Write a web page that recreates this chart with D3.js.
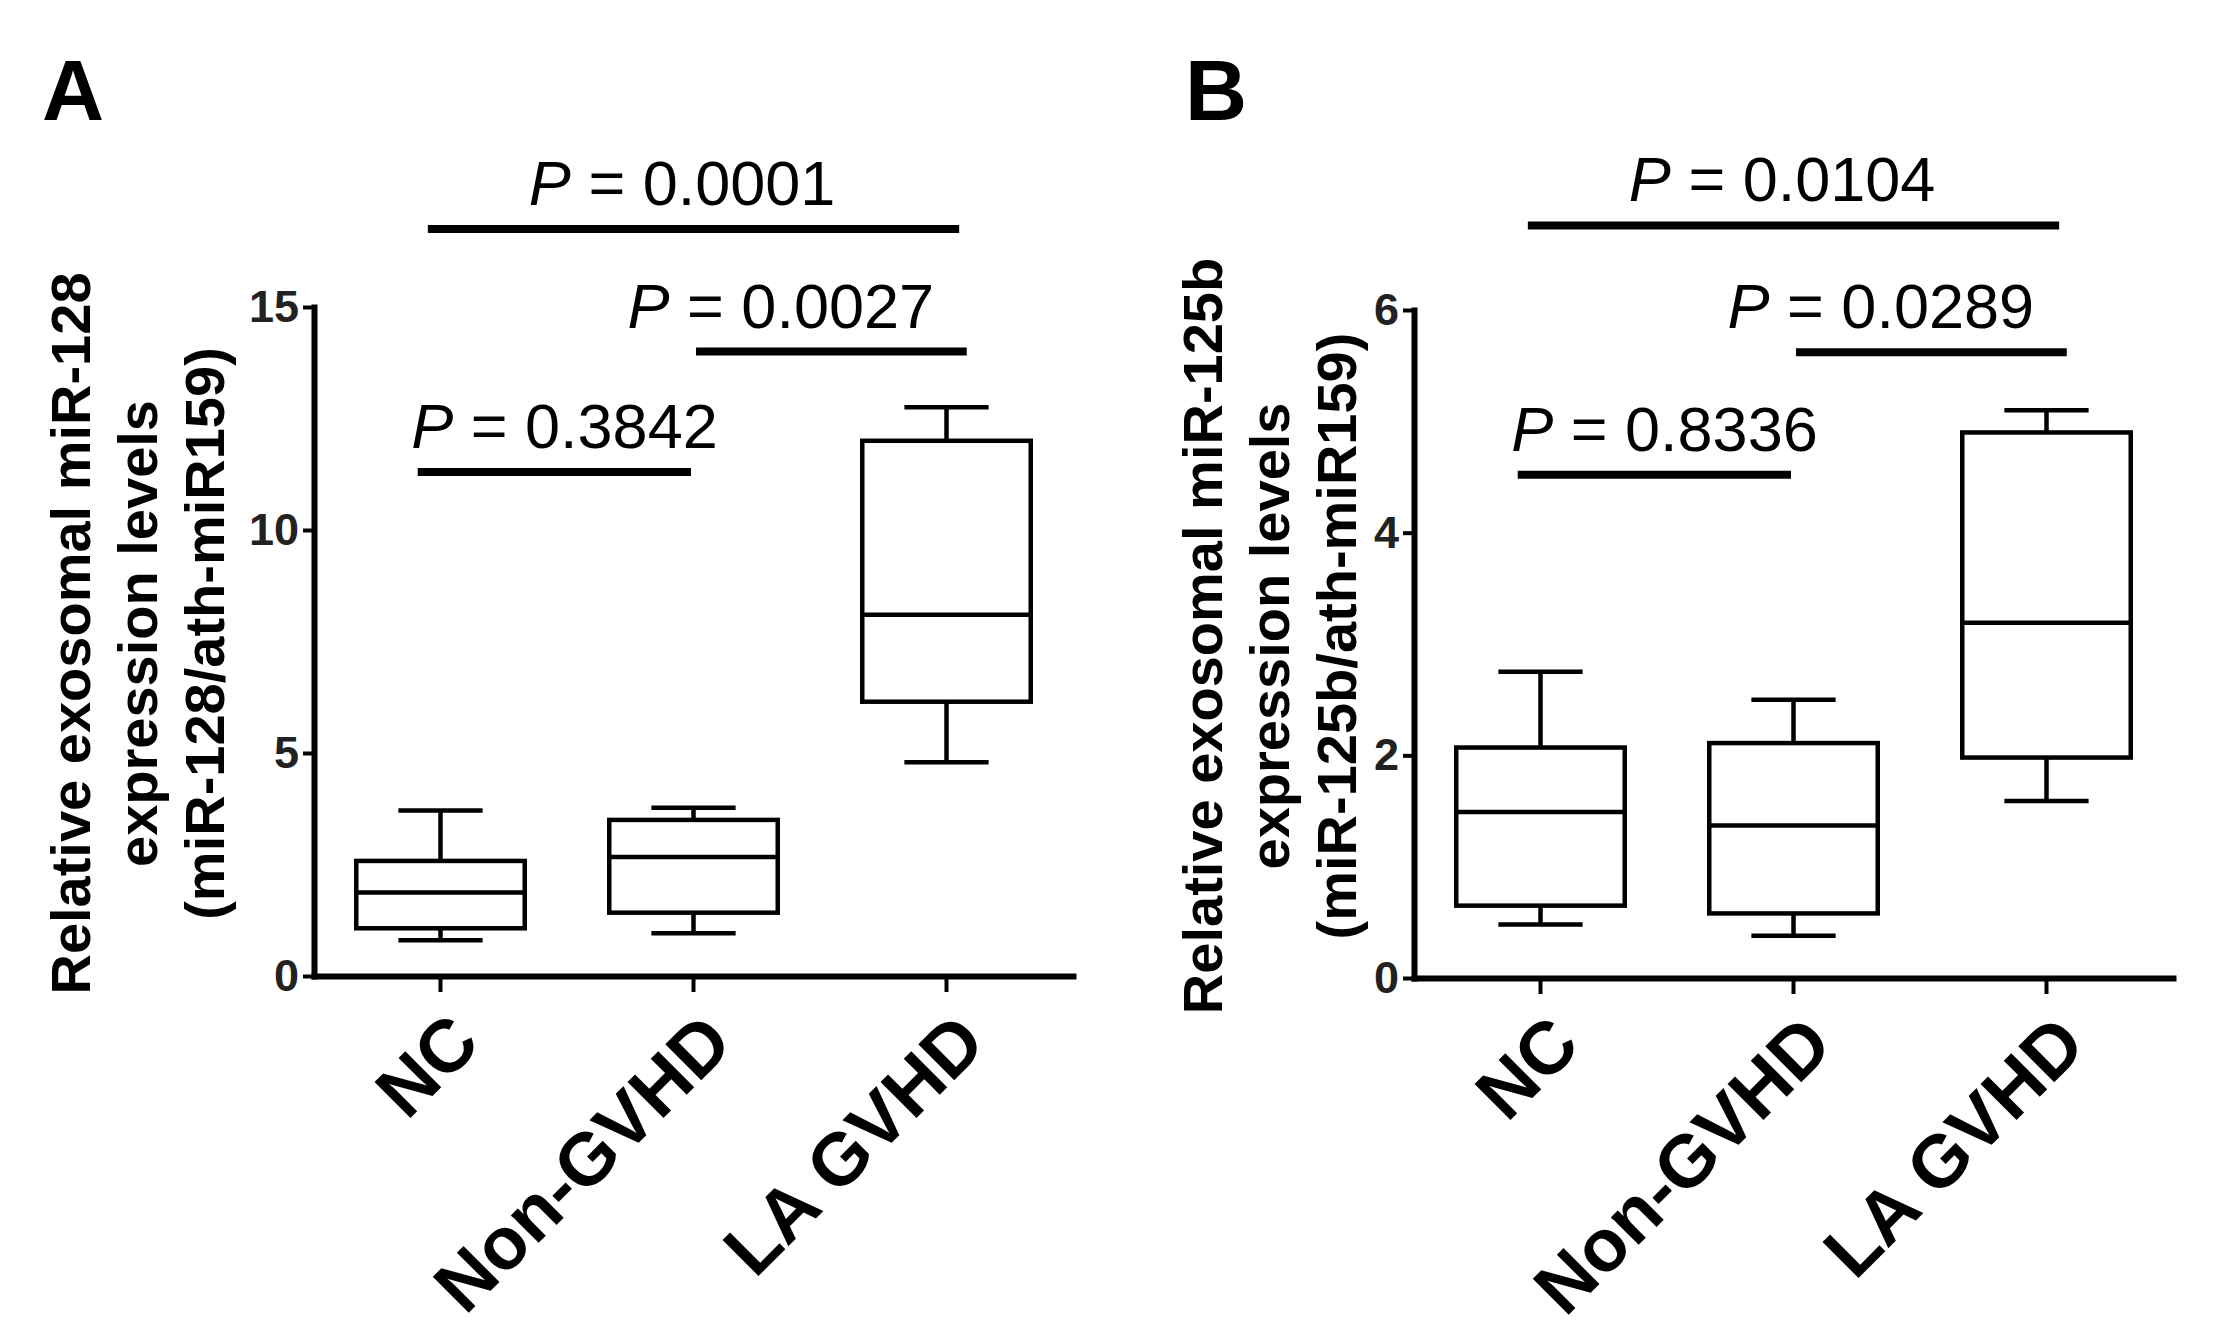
<!DOCTYPE html>
<html>
<head>
<meta charset="utf-8">
<script src="https://cdn.jsdelivr.net/npm/d3@7"></script>
<style>
  body { margin: 0; background: #fff; }
  svg { display: block; font-family: "Liberation Sans", Arial, Helvetica, sans-serif; }
</style>
</head>
<body>
<svg id="chart"></svg>
<script>
const categories = ["NC", "Non-GVHD", "LA GVHD"];

// box stats per group: [min, q1, median, q3, max]
const miR128Stats = [
  [0.8, 1.07, 1.87, 2.58, 3.71],
  [0.96, 1.42, 2.67, 3.5, 3.77],
  [4.79, 6.15, 8.1, 12.0, 12.75],
];
const miR125bStats = [
  [0.48, 0.65, 1.49, 2.07, 2.75],
  [0.38, 0.58, 1.37, 2.11, 2.5],
  [1.59, 1.98, 3.19, 4.9, 5.1],
];

const comparisonPairs = [[0, 2], [1, 2], [0, 1]];
const miR128PValues = ["0.0001", "0.0027", "0.3842"];
const miR128BarLevels = [16.75, 14.0, 11.3];
const miR125bPValues = ["0.0104", "0.0289", "0.8336"];
const miR125bBarLevels = [6.76, 5.62, 4.52];

const miR128Ticks = [0, 5, 10, 15];
const miR125bTicks = [0, 2, 4, 6];

// layout only: bar end nudges and label shifts, in category steps
const barPads = [[-0.05, 0.05], [0.01, 0.08], [-0.09, -0.01]];
const labelShift = [-0.045, -0.155, -0.01];

const svgWidth = 2217;
const svgHeight = 1344;

const svg = d3.select("#chart").attr("width", svgWidth).attr("height", svgHeight);
svg.append("rect").attr("width", svgWidth).attr("height", svgHeight).attr("fill", "#fff");

const panels = [
  {
    letter: "A", letterX: 42, axisX: 314, axisRight: 1073, yTop: 307, yBottom: 976,
    yMax: 15, ticks: miR128Ticks, stats: miR128Stats,
    pValues: miR128PValues, levels: miR128BarLevels,
    title: ["Relative exosomal miR-128", "expression levels", "(miR-128/ath-miR159)"],
    titleX: 90,
  },
  {
    letter: "B", letterX: 1185, axisX: 1414, axisRight: 2173, yTop: 310, yBottom: 978,
    yMax: 6, ticks: miR125bTicks, stats: miR125bStats,
    pValues: miR125bPValues, levels: miR125bBarLevels,
    title: ["Relative exosomal miR-125b", "expression levels", "(miR-125b/ath-miR159)"],
    titleX: 1222,
  },
];

const drawPanel = (p) => {
  const g = svg.append("g");

  const x = d3.scaleBand().domain(categories).range([p.axisX, p.axisRight]);
  const step = x.step();
  const cx = (c) => x(c) + x.bandwidth() / 2;
  const y = d3.scaleLinear().domain([0, p.yMax]).range([p.yBottom, p.yTop]);

  // y axis
  const yAxis = g.append("g")
    .attr("transform", `translate(${p.axisX},0)`)
    .call(d3.axisLeft(y).tickValues(p.ticks).tickFormat(d3.format("d"))
      .tickSize(11).tickSizeOuter(0).tickPadding(4));
  yAxis.select(".domain").attr("stroke", "#000").attr("stroke-width", 6).attr("stroke-linecap", "square");
  yAxis.selectAll(".tick line").attr("stroke", "#000").attr("stroke-width", 4);
  yAxis.selectAll(".tick text")
    .attr("font-size", 45).attr("font-weight", "bold").attr("fill", "#222")
    .attr("font-family", "'Liberation Sans', Arial, sans-serif");

  // x axis
  const xAxis = g.append("g")
    .attr("transform", `translate(0,${p.yBottom})`)
    .call(d3.axisBottom(x).tickSize(16).tickSizeOuter(0).tickFormat(""));
  xAxis.select(".domain").attr("stroke", "#000").attr("stroke-width", 6).attr("stroke-linecap", "square");
  xAxis.selectAll(".tick line").attr("stroke", "#000").attr("stroke-width", 4);

  // category labels
  g.selectAll(".cat")
    .data(categories)
    .enter()
    .append("text")
    .attr("class", "cat")
    .attr("transform", (d) => `translate(${cx(d) + 42},${p.yBottom + 70}) rotate(-45)`)
    .attr("text-anchor", "end")
    .attr("font-size", 74)
    .attr("font-weight", "bold")
    .text((d) => d);

  // boxes
  const boxW = step * 0.666;
  const box = g.selectAll(".box")
    .data(p.stats)
    .enter()
    .append("g")
    .attr("class", "box")
    .attr("transform", (d, i) => `translate(${cx(categories[i])},0)`);

  const ln = { stroke: "#000", "stroke-width": 4.5, fill: "none" };
  const applyLn = (sel) => Object.entries(ln).forEach(([k, v]) => sel.attr(k, v));

  box.append("line").attr("x1", 0).attr("x2", 0)
    .attr("y1", (d) => y(d[3])).attr("y2", (d) => y(d[4])).call(applyLn);
  box.append("line").attr("x1", 0).attr("x2", 0)
    .attr("y1", (d) => y(d[1])).attr("y2", (d) => y(d[0])).call(applyLn);
  box.append("line").attr("x1", -boxW / 4).attr("x2", boxW / 4)
    .attr("y1", (d) => y(d[4])).attr("y2", (d) => y(d[4])).call(applyLn);
  box.append("line").attr("x1", -boxW / 4).attr("x2", boxW / 4)
    .attr("y1", (d) => y(d[0])).attr("y2", (d) => y(d[0])).call(applyLn);
  box.append("rect")
    .attr("x", -boxW / 2).attr("width", boxW)
    .attr("y", (d) => y(d[3])).attr("height", (d) => y(d[1]) - y(d[3]))
    .call(applyLn).attr("fill", "#fff");
  box.append("line").attr("x1", -boxW / 2).attr("x2", boxW / 2)
    .attr("y1", (d) => y(d[2])).attr("y2", (d) => y(d[2])).call(applyLn);

  // significance bars
  comparisonPairs.forEach((pair, i) => {
    const x0 = cx(categories[pair[0]]) + barPads[i][0] * step;
    const x1 = cx(categories[pair[1]]) + barPads[i][1] * step;
    const yy = y(p.levels[i]);
    g.append("line")
      .attr("x1", x0).attr("x2", x1).attr("y1", yy).attr("y2", yy)
      .attr("stroke", "#000").attr("stroke-width", 8);
    const mid = (cx(categories[pair[0]]) + cx(categories[pair[1]])) / 2 + labelShift[i] * step;
    const t = g.append("text")
      .attr("x", mid).attr("y", yy - 24)
      .attr("text-anchor", "middle")
      .attr("font-size", 63);
    t.append("tspan").attr("font-style", "italic").text("P");
    t.append("tspan").text(" = " + p.pValues[i]);
  });

  // y title
  const title = g.append("text")
    .attr("transform", `translate(${p.titleX},${(p.yTop + p.yBottom) / 2 - 8}) rotate(-90)`)
    .attr("text-anchor", "middle")
    .attr("font-size", 56)
    .attr("font-weight", "bold");
  title.selectAll("tspan")
    .data(p.title)
    .enter()
    .append("tspan")
    .attr("x", 0)
    .attr("y", (d, i) => i * 67)
    .text((d) => d);

  // panel letter
  g.append("text")
    .attr("x", p.letterX).attr("y", 120)
    .attr("font-size", 86).attr("font-weight", "bold")
    .text(p.letter);
};

panels.forEach(drawPanel);
</script>
</body>
</html>
